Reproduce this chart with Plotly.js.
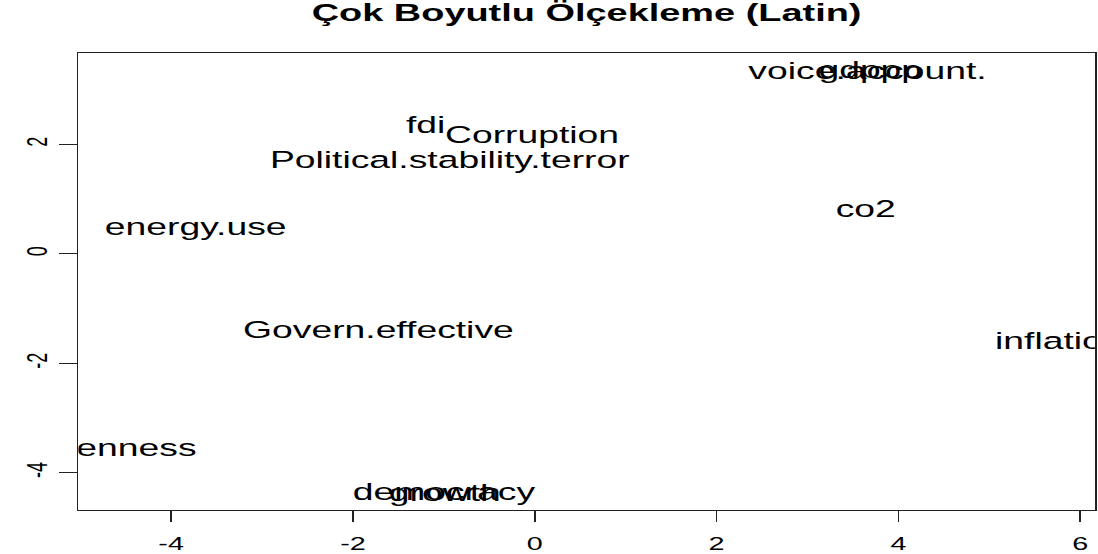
<!DOCTYPE html>
<html>
<head>
<meta charset="utf-8">
<script src="https://cdn.plot.ly/plotly-3.0.1.min.js"></script>
<style>
  html, body { margin: 0; padding: 0; background: #ffffff; overflow: hidden; }
  #wrap { width: 1098px; height: 554px; overflow: hidden; }
  #chart { width: 686px; height: 554px; transform: scaleX(1.60058); transform-origin: 0 0; }
</style>
</head>
<body>
<div id="wrap"><div id="chart"></div></div>
<script>
// Labels of the variables placed by multidimensional scaling
const labels = ["voice.account.", "gdppp", "fdi", "Corruption", "Political.stability.terror",
                "co2", "energy.use", "Govern.effective", "inflation", "openness",
                "democracy", "growth"];
// Coordinate 1 (horizontal)
const dim1 = [3.66, 3.69, -1.20, -0.03, -0.935, 3.64, -3.73, -1.72, 5.77, -4.61, -1.00, -0.99];
// Coordinate 2 (vertical)
const dim2 = [3.30, 3.32, 2.31, 2.14, 1.67, 0.78, 0.46, -1.43, -1.63, -3.58, -4.39, -4.40];

const xTickVals = [-4, -2, 0, 2, 4, 6];
const xTickText = ["-4", "-2", "0", "2", "4", "6"];
const yTickVals = [-4, -2, 0, 2];
const yTickText = ["-4", "-2", "0", "2"];

const titleText = "Çok Boyutlu Ölçekleme (Latin)";

const FONT = "Liberation Sans, Arial, Helvetica, sans-serif";

const trace = {
  type: "scatter",
  mode: "text",
  x: dim1,
  y: dim2,
  text: labels,
  textposition: "middle center",
  textfont: { family: FONT, size: 23.3, color: "#000000" },
  cliponaxis: true,
  hoverinfo: "skip",
  showlegend: false
};

const axisCommon = {
  showgrid: false,
  zeroline: false,
  showline: true,
  mirror: true,
  linecolor: "#222222",
  linewidth: 1.2,
  ticks: "outside",
  ticklen: 11,
  tickwidth: 1,
  tickcolor: "#222222",
  tickmode: "array",
  tickfont: { family: FONT, size: 18, color: "#000000" },
  fixedrange: true
};

const layout = {
  width: 686,
  height: 554,
  margin: { l: 49, r: 2, t: 53, b: 44, pad: 0 },
  paper_bgcolor: "#ffffff",
  plot_bgcolor: "#ffffff",
  title: {
    text: titleText,
    font: { family: FONT, size: 23.7, color: "#000000", weight: "bold" },
    x: 0.5, xref: "paper", xanchor: "center",
    y: 1 - 13 / 554, yref: "container", yanchor: "middle"
  },
  xaxis: Object.assign({}, axisCommon, {
    range: [-5.02, 6.16],
    tickvals: xTickVals,
    ticktext: xTickText,
    ticklabelstandoff: 6
  }),
  yaxis: Object.assign({}, axisCommon, {
    range: [-4.68, 3.67],
    tickvals: yTickVals,
    ticktext: yTickText,
    tickangle: -90,
    ticklabelstandoff: 9.5
  })
};

Plotly.newPlot("chart", [trace], layout, { displayModeBar: false, staticPlot: true });
</script>
</body>
</html>
